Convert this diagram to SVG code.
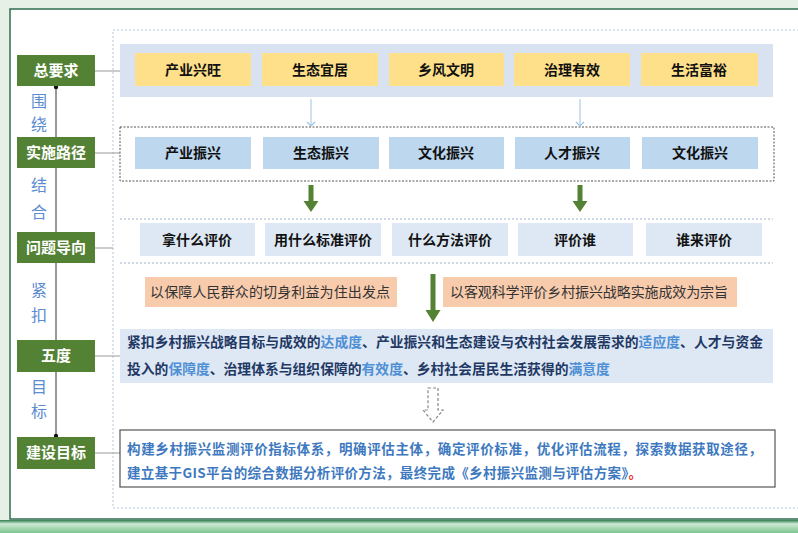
<svg xmlns="http://www.w3.org/2000/svg" width="798" height="533" viewBox="0 0 798 533">
<defs>
<style>
.lbl rect{fill:#548235}
.lbl text{fill:#fff;font:bold 15px "Noto Sans CJK SC",sans-serif;text-anchor:middle}
.side{fill:#5b8bd0;font:16px "Noto Sans CJK SC",sans-serif;text-anchor:middle}
.yel rect{fill:#ffe08a}
.blu rect{fill:#bdd7ee}
.lbb rect{fill:#dde8f4}
.bx text{font:bold 14px "Noto Sans CJK SC",sans-serif;fill:#111;text-anchor:middle}
.org rect{fill:#f8cbad}
.org text{font:14px "Noto Sans CJK SC",sans-serif;fill:#333}
.conn line{stroke:#999;stroke-width:1}
.wide{font:bold 13.8px "Noto Sans CJK SC",sans-serif;fill:#1f3864}
.hl{fill:#4f8fd6}
.goal{font:bold 13.5px "Noto Sans CJK SC",serif;fill:#3e79c0}
</style>
<linearGradient id="band" x1="0" y1="0" x2="0" y2="1">
<stop offset="0" stop-color="#2e7d4f"/><stop offset="0.3" stop-color="#cfe9d5"/><stop offset="1" stop-color="#7cc48f"/>
</linearGradient>
<marker id="thin" markerWidth="10" markerHeight="10" refX="5" refY="5" orient="auto" markerUnits="userSpaceOnUse">
<path d="M1,1 L5,5 L1,9" fill="none" stroke="#9dc3e6" stroke-width="1.2"/>
</marker>
</defs>
<rect width="798" height="533" fill="#e7f0e7"/>
<rect x="10" y="9" width="800" height="510" fill="#fff" stroke="#2e6e4e" stroke-width="1.5"/>
<rect x="0" y="520" width="798" height="13" fill="url(#band)"/>
<rect x="113" y="30" width="690" height="478" fill="none" stroke="#b5c5d8" stroke-width="1" stroke-dasharray="2,2"/>

<g id="connectors" class="conn">
<line x1="56" y1="86" x2="56" y2="437" style="stroke:#777;stroke-width:1.5"/>
<circle cx="56" cy="87" r="2.2" fill="#111"/>
<circle cx="56" cy="436" r="2.2" fill="#111"/>
<line x1="95" y1="71" x2="120" y2="71"/>
<line x1="95" y1="153" x2="120" y2="153"/>
<line x1="95" y1="248" x2="113" y2="248"/>
<line x1="95" y1="356" x2="120" y2="356"/>
<line x1="95" y1="453" x2="120" y2="453"/>
<line x1="311" y1="99" x2="311" y2="126" style="stroke:#9dc3e6" marker-end="url(#thin)"/>
<line x1="580" y1="99" x2="580" y2="126" style="stroke:#9dc3e6" marker-end="url(#thin)"/>
<path d="M308.5,185 h5 v16 h5 l-7.5,11 l-7.5,-11 h5 z" fill="#548235"/>
<path d="M577.5,185 h5 v16 h5 l-7.5,11 l-7.5,-11 h5 z" fill="#548235"/>
<path d="M430.5,274 h5 v36 h5 l-7.5,12 l-7.5,-12 h5 z" fill="#548235"/>
<path d="M428,388 h10 v22 h5 l-10,12 l-10,-12 h5 z" fill="none" stroke="#888" stroke-width="1.2" stroke-dasharray="3,2"/>
</g>

<text class="side" x="39" y="107">围</text>
<text class="side" x="39" y="130">绕</text>
<text class="side" x="39" y="191">结</text>
<text class="side" x="39" y="218">合</text>
<text class="side" x="39" y="296">紧</text>
<text class="side" x="39" y="321">扣</text>
<text class="side" x="39" y="393">目</text>
<text class="side" x="39" y="417">标</text>

<g id="lbl1" class="lbl"><rect x="17" y="55" width="78" height="31"/><text x="56" y="76">总要求</text></g>
<g id="lbl2" class="lbl"><rect x="17" y="137" width="78" height="31"/><text x="56" y="158">实施路径</text></g>
<g id="lbl3" class="lbl"><rect x="17" y="232" width="78" height="31"/><text x="56" y="253">问题导向</text></g>
<g id="lbl4" class="lbl"><rect x="17" y="340" width="78" height="32"/><text x="56" y="361">五度</text></g>
<g id="lbl5" class="lbl"><rect x="17" y="437" width="78" height="32"/><text x="56" y="458">建设目标</text></g>

<rect x="120" y="44" width="653" height="53" fill="#d9e2f0"/>
<g id="r1" class="bx yel">
<rect x="135" y="53" width="116" height="33"/><text x="193" y="75">产业兴旺</text>
<rect x="262" y="53" width="116" height="33"/><text x="320" y="75">生态宜居</text>
<rect x="389" y="53" width="115" height="33"/><text x="446" y="75">乡风文明</text>
<rect x="514" y="53" width="116" height="33"/><text x="572" y="75">治理有效</text>
<rect x="641" y="53" width="117" height="33"/><text x="699" y="75">生活富裕</text>
</g>

<rect x="120" y="127" width="654" height="54" fill="none" stroke="#555" stroke-width="1" stroke-dasharray="2,1.5"/>
<g id="r2" class="bx blu">
<rect x="135" y="137" width="116" height="32"/><text x="193" y="158">产业振兴</text>
<rect x="263" y="137" width="116" height="32"/><text x="321" y="158">生态振兴</text>
<rect x="389" y="137" width="115" height="32"/><text x="446" y="158">文化振兴</text>
<rect x="515" y="137" width="115" height="32"/><text x="572" y="158">人才振兴</text>
<rect x="642" y="137" width="116" height="32"/><text x="700" y="158">文化振兴</text>
</g>

<line x1="120" y1="219" x2="773" y2="219" stroke="#9fb3cc" stroke-dasharray="2,2"/>
<line x1="120" y1="263" x2="773" y2="263" stroke="#9fb3cc" stroke-dasharray="2,2"/>
<g id="r3" class="bx lbb">
<rect x="140" y="223" width="115" height="33"/><text x="197" y="245">拿什么评价</text>
<rect x="265" y="223" width="116" height="33"/><text x="323" y="245">用什么标准评价</text>
<rect x="392" y="223" width="116" height="33"/><text x="450" y="245">什么方法评价</text>
<rect x="518" y="223" width="115" height="33"/><text x="575" y="245">评价谁</text>
<rect x="646" y="223" width="116" height="33"/><text x="704" y="245">谁来评价</text>
</g>

<g id="o1" class="org"><rect x="145" y="277" width="252" height="30"/><text x="150" y="297" textLength="240">以保障人民群众的切身利益为住出发点</text></g>
<g id="o2" class="org"><rect x="443" y="277" width="294" height="30"/><text x="450" y="297" textLength="278">以客观科学评价乡村振兴战略实施成效为宗旨</text></g>

<g id="wudu">
<rect x="120" y="329" width="653" height="54" fill="#dde8f4"/>
<text class="wide" x="127" y="347" textLength="636">紧扣乡村振兴战略目标与成效的<tspan class="hl">达成度</tspan>、产业振兴和生态建设与农村社会发展需求的<tspan class="hl">适应度</tspan>、人才与资金</text>
<text class="wide" x="127" y="374">投入的<tspan class="hl">保障度</tspan>、治理体系与组织保障的<tspan class="hl">有效度</tspan>、乡村社会居民生活获得的<tspan class="hl">满意度</tspan></text>
</g>

<g id="goal">
<rect x="120" y="430" width="655" height="57" fill="#fff" stroke="#555" stroke-width="1.2"/>
<text class="goal" x="127" y="454" textLength="635">构建乡村振兴监测评价指标体系，明确评估主体，确定评价标准，优化评估流程，探索数据获取途径，</text>
<text class="goal" x="127" y="478" textLength="515">建立基于GIS平台的综合数据分析评价方法，最终完成《乡村振兴监测与评估方案》<tspan fill="#e03030">。</tspan></text>
</g>
</svg>
